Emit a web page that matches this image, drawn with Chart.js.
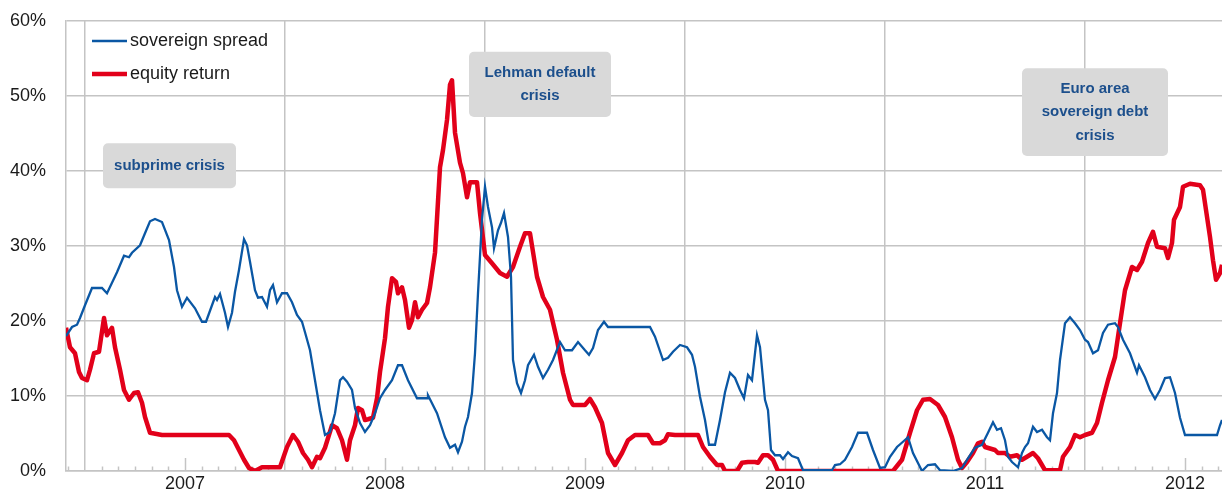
<!DOCTYPE html>
<html>
<head>
<meta charset="utf-8">
<script src="https://cdn.jsdelivr.net/npm/chart.js@4/dist/chart.umd.min.js"></script>
<style>
  html, body { margin: 0; padding: 0; background: #ffffff; }
  #wrap { width: 1222px; height: 491px; }
</style>
</head>
<body>
<div id="wrap"><canvas id="c" width="1222" height="491"></canvas></div>
<script>
// ---- data (x = decimal year, y = percent) ----
const seriesNames = ['sovereign spread', 'equity return'];

const sovYears = [2006.405,2006.435,2006.46,2006.475,2006.5,2006.535,2006.585,2006.61,2006.635,2006.66,2006.695,2006.72,2006.735,2006.775,2006.8,2006.825,2006.85,2006.885,2006.92,2006.945,2006.96,2006.985,2007.01,2007.05,2007.085,2007.105,2007.135,2007.15,2007.16,2007.175,2007.2,2007.215,2007.235,2007.25,2007.27,2007.295,2007.31,2007.325,2007.35,2007.365,2007.385,2007.41,2007.425,2007.44,2007.46,2007.485,2007.51,2007.535,2007.56,2007.585,2007.6,2007.625,2007.65,2007.675,2007.7,2007.725,2007.75,2007.775,2007.79,2007.81,2007.835,2007.85,2007.875,2007.9,2007.925,2007.95,2007.975,2008.0,2008.035,2008.065,2008.085,2008.115,2008.16,2008.21,2008.215,2008.26,2008.3,2008.325,2008.35,2008.365,2008.385,2008.4,2008.415,2008.435,2008.45,2008.465,2008.485,2008.5,2008.515,2008.535,2008.545,2008.565,2008.58,2008.595,2008.615,2008.63,2008.64,2008.66,2008.68,2008.7,2008.715,2008.745,2008.765,2008.79,2008.815,2008.84,2008.875,2008.9,2008.935,2008.965,2009.0,2009.02,2009.04,2009.065,2009.095,2009.115,2009.325,2009.35,2009.39,2009.415,2009.44,2009.475,2009.51,2009.535,2009.55,2009.575,2009.6,2009.62,2009.65,2009.675,2009.7,2009.725,2009.75,2009.775,2009.795,2009.815,2009.835,2009.86,2009.875,2009.9,2009.915,2009.93,2009.95,2009.975,2009.99,2010.015,2010.035,2010.065,2010.09,2010.235,2010.25,2010.275,2010.3,2010.335,2010.365,2010.41,2010.44,2010.475,2010.5,2010.525,2010.56,2010.59,2010.615,2010.64,2010.685,2010.715,2010.75,2010.775,2010.84,2010.885,2010.915,2010.95,2010.985,2011.015,2011.04,2011.06,2011.08,2011.1,2011.115,2011.135,2011.165,2011.185,2011.2,2011.215,2011.24,2011.26,2011.285,2011.31,2011.325,2011.34,2011.36,2011.375,2011.4,2011.425,2011.45,2011.475,2011.5,2011.515,2011.54,2011.565,2011.59,2011.615,2011.65,2011.665,2011.69,2011.725,2011.76,2011.77,2011.8,2011.825,2011.85,2011.875,2011.9,2011.925,2011.95,2011.975,2012.0,2012.16,2012.175,2012.185];
const sovValues = [18.0,19.2,19.5,20.4,22.1,24.4,24.4,23.7,25.1,26.5,28.7,28.5,29.1,30.1,31.7,33.3,33.6,33.2,30.8,27.2,24.1,21.9,23.1,21.7,19.9,19.9,22.1,23.2,22.8,23.6,21.1,19.2,21.1,23.9,26.8,30.9,30.1,27.9,24.1,23.1,23.2,21.9,24.1,24.8,22.5,23.7,23.7,22.5,20.8,19.9,18.5,16.1,12.1,8.1,4.8,5.2,7.7,12.1,12.5,11.9,10.8,8.4,6.4,5.2,6.1,7.7,9.7,10.8,12.1,14.1,14.1,12.1,9.7,9.7,10.1,7.7,4.5,3.1,3.5,2.5,3.9,5.9,7.2,10.4,15.7,23.7,33.5,37.9,35.2,32.5,29.7,32.1,33.1,34.4,31.2,25.9,14.8,11.7,10.4,12.1,14.1,15.5,13.9,12.4,13.5,14.8,17.2,16.1,16.1,17.2,16.1,15.5,16.4,18.8,19.9,19.2,19.2,17.9,14.8,15.1,15.9,16.8,16.5,15.5,13.9,9.9,6.8,3.5,3.5,6.8,10.5,13.1,12.4,10.8,9.7,12.8,12.1,18.1,16.5,9.5,8.1,2.8,2.1,2.1,1.6,2.5,2.0,1.7,0.1,0.1,0.8,0.9,1.5,3.2,5.1,5.1,2.8,0.4,0.5,1.9,3.2,3.9,4.5,2.4,0.0,0.8,0.9,0.1,0.0,0.4,1.7,3.1,3.5,5.1,6.5,5.5,5.7,4.1,1.9,1.2,0.5,2.4,3.2,3.7,5.9,5.2,5.5,4.5,4.1,7.7,10.4,14.8,19.7,20.5,19.7,18.8,17.5,17.2,15.7,16.1,18.4,19.5,19.7,19.2,17.5,15.7,13.1,14.1,12.5,10.8,9.6,10.8,12.4,12.5,10.4,7.1,4.8,4.8,6.1,6.8];

const eqYears = [2006.405,2006.425,2006.45,2006.47,2006.485,2006.51,2006.525,2006.545,2006.57,2006.595,2006.61,2006.635,2006.65,2006.675,2006.695,2006.72,2006.745,2006.765,2006.785,2006.8,2006.825,2006.885,2007.22,2007.245,2007.27,2007.295,2007.32,2007.35,2007.385,2007.475,2007.51,2007.54,2007.565,2007.59,2007.615,2007.635,2007.66,2007.675,2007.7,2007.735,2007.76,2007.785,2007.81,2007.825,2007.85,2007.865,2007.885,2007.9,2007.915,2007.94,2007.96,2007.975,2008.0,2008.015,2008.035,2008.055,2008.065,2008.085,2008.1,2008.12,2008.135,2008.15,2008.165,2008.185,2008.21,2008.225,2008.25,2008.275,2008.29,2008.31,2008.325,2008.335,2008.35,2008.375,2008.39,2008.41,2008.425,2008.46,2008.475,2008.5,2008.535,2008.575,2008.61,2008.64,2008.675,2008.7,2008.725,2008.76,2008.79,2008.825,2008.86,2008.89,2008.925,2008.94,2009.0,2009.025,2009.05,2009.085,2009.115,2009.15,2009.185,2009.215,2009.25,2009.315,2009.34,2009.375,2009.4,2009.415,2009.45,2009.565,2009.59,2009.625,2009.66,2009.685,2009.7,2009.76,2009.785,2009.815,2009.85,2009.865,2009.89,2009.915,2009.94,2009.965,2010.54,2010.585,2010.625,2010.66,2010.69,2010.725,2010.765,2010.8,2010.835,2010.865,2010.885,2010.91,2010.94,2010.965,2010.985,2011.0,2011.05,2011.065,2011.1,2011.125,2011.16,2011.185,2011.21,2011.24,2011.265,2011.3,2011.375,2011.39,2011.425,2011.45,2011.475,2011.5,2011.535,2011.56,2011.585,2011.615,2011.65,2011.675,2011.7,2011.735,2011.76,2011.785,2011.815,2011.84,2011.86,2011.9,2011.915,2011.935,2011.945,2011.975,2011.99,2012.025,2012.075,2012.09,2012.125,2012.14,2012.155,2012.175,2012.185];
const eqValues = [19.1,16.5,15.7,13.2,12.4,12.1,13.5,15.7,15.9,20.4,18.1,19.1,16.5,13.5,10.8,9.5,10.4,10.5,9.1,7.2,5.1,4.8,4.8,4.1,2.8,1.5,0.4,0.0,0.5,0.5,3.2,4.8,3.9,2.4,1.5,0.5,1.9,1.7,3.1,6.1,5.7,4.1,1.5,4.1,6.1,8.4,8.1,6.8,6.9,7.1,9.7,13.2,17.7,21.9,25.7,25.2,23.7,24.5,22.8,19.1,20.1,22.5,20.5,21.5,22.4,24.5,29.1,40.5,42.8,46.8,51.5,52.1,45.1,41.1,39.7,36.5,38.5,38.5,34.4,28.8,27.7,26.4,25.9,27.2,29.9,31.7,31.7,25.9,23.2,21.5,17.5,13.1,9.5,8.8,8.8,9.6,8.5,6.4,2.4,0.8,2.4,4.1,4.8,4.8,3.7,3.7,4.1,4.9,4.8,4.8,3.2,1.9,0.8,0.8,0.0,0.0,1.1,1.2,1.2,1.1,2.1,2.1,1.5,0.0,0.0,1.5,5.1,8.1,9.5,9.6,8.8,7.2,4.5,1.5,0.4,1.2,2.4,3.7,3.9,3.2,2.8,2.4,2.4,1.9,2.1,1.5,1.9,2.4,1.7,0.1,0.1,1.9,3.2,4.8,4.5,4.8,5.1,6.4,9.1,12.1,15.2,19.7,24.1,27.2,26.8,27.9,30.4,31.9,29.9,29.7,28.4,30.4,33.5,35.2,37.9,38.3,38.1,37.5,31.2,28.1,25.5,26.4,27.5];

const yTickValues = [0, 10, 20, 30, 40, 50, 60];
const crisisLabels = [['subprime crisis'], ['Lehman default', 'crisis'], ['Euro area', 'sovereign debt', 'crisis']];

// ---- styling / layout ----
const FONT = "'Liberation Sans', Arial, sans-serif";
const GRID = '#c4c4c4';
const BLUE = '#0a57a4';
const RED = '#e2001a';
// annotation boxes in data coordinates (x in years, y in percent)
const boxPos = [
  {x0: 2006.59, x1: 2007.255, yTop: 43.7, yBot: 37.7},
  {x0: 2008.42, x1: 2009.13, yTop: 55.9, yBot: 47.2},
  {x0: 2011.185, x1: 2011.915, yTop: 53.7, yBot: 42.0}
];

function near(v, t) { return Math.abs(v - t) < 1e-6; }
function isYear(v) { return near(v, Math.round(v)); }
function isMidYear(v) { return near(v - Math.floor(v), 0.5); }

const toPoints = (xs, ys) => xs.map((x, i) => ({x: x, y: ys[i]}));

const minorTicks = {
  id: 'minorTicks',
  beforeDatasetsDraw(chart) {
    const sx = chart.scales.x, ctx = chart.ctx;
    const bottom = chart.chartArea.bottom;
    ctx.save();
    ctx.strokeStyle = GRID;
    ctx.lineWidth = 1.5;
    sx.ticks.forEach(t => {
      if (isMidYear(t.value)) return;
      const px = Math.round(sx.getPixelForValue(t.value)) + 0.5;
      const len = isYear(t.value) ? 13 : 4.5;
      ctx.beginPath();
      ctx.moveTo(px, bottom);
      ctx.lineTo(px, bottom - len);
      ctx.stroke();
    });
    ctx.restore();
  }
};

const boxes = {
  id: 'boxes',
  afterDatasetsDraw(chart) {
    const sx = chart.scales.x, sy = chart.scales.y, ctx = chart.ctx;
    ctx.save();
    boxPos.forEach((b, i) => {
      const l = sx.getPixelForValue(b.x0), r = sx.getPixelForValue(b.x1);
      const t = sy.getPixelForValue(b.yTop), bt = sy.getPixelForValue(b.yBot);
      ctx.fillStyle = '#d9d9d9';
      ctx.beginPath();
      ctx.roundRect(l, t, r - l, bt - t, 5);
      ctx.fill();
      const lines = crisisLabels[i];
      const lh = 23.5;
      const cy = (t + bt) / 2;
      ctx.fillStyle = '#1c4f8c';
      ctx.font = 'bold 15px ' + FONT;
      ctx.textAlign = 'center';
      ctx.textBaseline = 'middle';
      lines.forEach((s, k) => {
        const y = cy + (k - (lines.length - 1) / 2) * lh;
        ctx.fillText(s, (l + r) / 2, y);
      });
    });
    ctx.restore();
  }
};

const insideLegend = {
  id: 'insideLegend',
  afterDraw(chart) {
    const ctx = chart.ctx;
    const x0 = 92, x1 = 127, tx = 130;
    const ys = [41, 74];
    ctx.save();
    chart.data.datasets.forEach((ds, i) => {
      ctx.strokeStyle = ds.borderColor;
      ctx.lineWidth = ds.borderWidth;
      ctx.beginPath();
      ctx.moveTo(x0, ys[i]);
      ctx.lineTo(x1, ys[i]);
      ctx.stroke();
      ctx.fillStyle = '#1a1a1a';
      ctx.font = '18px ' + FONT;
      ctx.textAlign = 'left';
      ctx.textBaseline = 'middle';
      ctx.fillText(ds.label, tx, ys[i]);
    });
    ctx.restore();
  }
};

new Chart(document.getElementById('c'), {
  type: 'line',
  data: {
    datasets: [
      {label: seriesNames[0], data: toPoints(sovYears, sovValues), borderColor: BLUE, borderWidth: 2.3, pointRadius: 0, tension: 0, fill: false},
      {label: seriesNames[1], data: toPoints(eqYears, eqValues), borderColor: RED, borderWidth: 4.5, pointRadius: 0, tension: 0, fill: false, borderJoinStyle: 'round'}
    ]
  },
  options: {
    responsive: false,
    animation: false,
    devicePixelRatio: 1,
    layout: {padding: {top: 21, right: 0, left: 0, bottom: 0}},
    plugins: {legend: {display: false}, tooltip: {enabled: false}},
    scales: {
      x: {
        type: 'linear',
        min: sovYears[0],
        max: sovYears[sovYears.length - 1],
        afterBuildTicks(scale) {
          const ticks = [];
          for (let m = 0; m <= 12 * 7; m++) {
            const v = 2006 + m / 12;
            if (v >= scale.min - 1e-9 && v <= scale.max + 1e-9) ticks.push({value: v});
          }
          scale.ticks = ticks;
        },
        afterFit(scale) { scale.height = 20; scale.paddingLeft = 0; scale.paddingRight = 0; },
        ticks: {
          autoSkip: false, maxRotation: 0, minRotation: 0, padding: 2,
          color: '#1a1a1a', font: {family: FONT, size: 18},
          callback: (v) => isYear(v) ? String(Math.round(v)) : ''
        },
        grid: {
          drawTicks: false,
          lineWidth: 1.5,
          color: (c) => (c.tick && isMidYear(c.tick.value)) ? GRID : 'rgba(0,0,0,0)'
        },
        border: {display: true, color: GRID, width: 1.5}
      },
      y: {
        min: 0, max: 60,
        afterBuildTicks(scale) { scale.ticks = yTickValues.map(v => ({value: v})); },
        afterFit(scale) { scale.width = 66; scale.paddingTop = 0; scale.paddingBottom = 0; },
        ticks: {
          padding: 20, color: '#1a1a1a', font: {family: FONT, size: 18},
          callback: (v) => v + '%'
        },
        grid: {drawTicks: false, color: GRID, lineWidth: 1.5},
        border: {display: true, color: GRID, width: 1.5}
      }
    }
  },
  plugins: [minorTicks, boxes, insideLegend]
});
</script>
</body>
</html>
